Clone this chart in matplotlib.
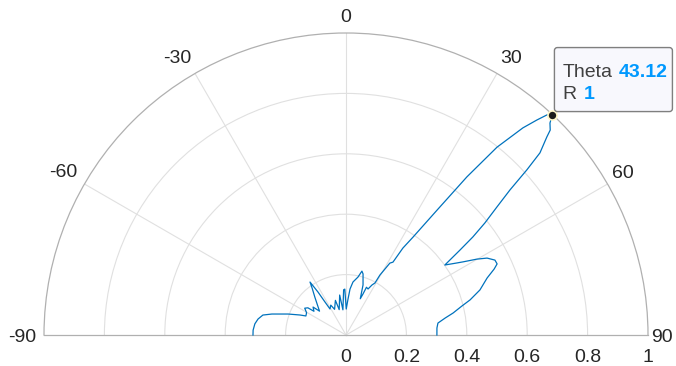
import numpy as np
import matplotlib
matplotlib.use("Agg")
import matplotlib.pyplot as plt
from matplotlib.patches import FancyBboxPatch
from matplotlib.transforms import IdentityTransform

# Array response pattern (angle in degrees, normalised magnitude)
theta_deg = [-90, -87, -83, -79.7, -76.5, -74.2, -70.1, -66.5, -64.6, -60.5,
             -57, -54.5, -53.5, -49.7, -48, -44, -39.5, -36, -34.2, -33.1,
             -32.5, -31.6, -27, -24, -17, -15, -9, -7, -3, -1.5,
             0.5, 3.2, 5, 7.5, 11.7, 14, 15.6, 18.8, 21.5, 22.5,
             23.2, 25.6, 27.5, 29.1, 29.5, 31.4, 32.8, 33.2, 34.4, 36.1,
             37.4, 38.8, 40.5, 41.6, 42.4, 43.12, 43.9, 44.9, 45.4, 46.8,
             47.6, 48.5, 49.7, 51.1, 52.3, 53.3, 54.7, 57, 58, 59.9,
             61.4, 63.3, 64.8, 66, 68, 71.4, 74.2, 76, 78.4, 80.3,
             82.6, 85.6, 90]
r_vals = [0.308, 0.308, 0.304, 0.296, 0.283, 0.255, 0.204, 0.166, 0.147, 0.150,
          0.163, 0.155, 0.132, 0.143, 0.118, 0.135, 0.162, 0.190, 0.212, 0.170,
          0.130, 0.101, 0.111, 0.093, 0.120, 0.087, 0.134, 0.084, 0.150, 0.152,
          0.086, 0.119, 0.153, 0.177, 0.196, 0.218, 0.210, 0.175, 0.129, 0.147,
          0.172, 0.169, 0.187, 0.197, 0.228, 0.279, 0.287, 0.344, 0.393, 0.512,
          0.659, 0.798, 0.902, 0.952, 0.987, 1.0, 0.974, 0.958, 0.934, 0.881,
          0.811, 0.725, 0.655, 0.591, 0.531, 0.471, 0.401, 0.438, 0.457, 0.501,
          0.532, 0.552, 0.553, 0.537, 0.504, 0.468, 0.427, 0.395, 0.362, 0.333,
          0.307, 0.302, 0.301]

theta_ticks = [-90, -60, -30, 0, 30, 60, 90]
r_ticks = [0, 0.2, 0.4, 0.6, 0.8, 1]
r_tick_labels = ["0", "0.2", "0.4", "0.6", "0.8", "1"]

tip_theta = 43.12
tip_r = 1

plt.rcParams['font.family'] = ['Liberation Sans', 'DejaVu Sans']

W, H = 676, 366
fig = plt.figure(figsize=(W / 100, H / 100), dpi=100)
# A half-disc wedge is fitted inside a square box, centred vertically,
# so the square axes is placed around the wedge's centre.
cx, cy, rad = 346, 335, 302          # pole and outer radius, image pixels
side = 2 * rad
box_top = (cy - rad / 2) - rad
ax = fig.add_axes([(cx - rad) / W, (H - (box_top + side)) / H,
                   side / W, side / H], projection='polar')
ax.set_theta_zero_location('N')
ax.set_theta_direction(-1)
ax.set_thetamin(-90)
ax.set_thetamax(90)
ax.set_rlim(0, 1)

ax.set_xticks(np.deg2rad(theta_ticks[1:-1]))
ax.set_yticks(r_ticks[1:-1])
ax.tick_params(axis='both', length=0, labelbottom=False, labelleft=False,
               labeltop=False, labelright=False)
ax.grid(True, color='#e0e0e0', linewidth=0.8)
for sp in ax.spines.values():
    sp.set_color('#b0b0b0')
    sp.set_linewidth(0.9)

lbl_color = '#262626'
fs = 14

# angle labels: offset (pixels) from the outer circle, with alignment
label_place = {
    -90: ((-8, -3), 'right', 'center'),
    -60: ((-7, 11), 'right', 'center'),
    -30: ((-4, 15), 'right', 'center'),
    0: ((0, 15), 'center', 'center'),
    30: ((3, 15), 'left', 'center'),
    60: ((4, 11), 'left', 'center'),
    90: ((3, -3), 'left', 'center'),
}
for t in theta_ticks:
    off, ha, va = label_place[t]
    ax.annotate(str(t), xy=(np.deg2rad(t), 1), xycoords='data',
                xytext=off, textcoords='offset pixels', ha=ha, va=va,
                fontsize=fs, color=lbl_color, annotation_clip=False)

# radius labels along the baseline
for rv, lab in zip(r_ticks, r_tick_labels):
    ax.annotate(lab, xy=(np.deg2rad(90), rv), xycoords='data',
                xytext=(0, -22), textcoords='offset pixels',
                ha='center', va='center', fontsize=fs, color=lbl_color,
                annotation_clip=False)

ax.plot(np.deg2rad(theta_deg), r_vals, color='#0072BD', linewidth=0.9,
        clip_on=False, zorder=3)

# data tip
ax.plot(np.deg2rad(tip_theta), tip_r, 'o', ms=6.5, mfc='#1c1c1c',
        mec='#fff8c8', mew=1.2, clip_on=False, zorder=6)

px, py = ax.transData.transform((np.deg2rad(tip_theta), tip_r))
box = FancyBboxPatch((px + 2, py + 3), 118, 64,
                     boxstyle='round,pad=0,rounding_size=3',
                     transform=IdentityTransform(), facecolor='#f8f8fd',
                     edgecolor='#7f7f7f', linewidth=1.0, zorder=7)
fig.add_artist(box)
tip_txt = '#404040'
tip_val = '#0099ff'
fig.text(px + 10, py + 38, 'Theta', transform=IdentityTransform(),
         fontsize=fs, color=tip_txt, va='baseline', ha='left', zorder=8)
fig.text(px + 66, py + 38, f'{tip_theta:.2f}', transform=IdentityTransform(),
         fontsize=fs, color=tip_val, fontweight='bold', va='baseline',
         ha='left', zorder=8)
fig.text(px + 10, py + 16, 'R', transform=IdentityTransform(),
         fontsize=fs, color=tip_txt, va='baseline', ha='left', zorder=8)
fig.text(px + 31, py + 16, f'{tip_r:g}', transform=IdentityTransform(),
         fontsize=fs, color=tip_val, fontweight='bold', va='baseline',
         ha='left', zorder=8)

fig.savefig('out.png', dpi=100)
